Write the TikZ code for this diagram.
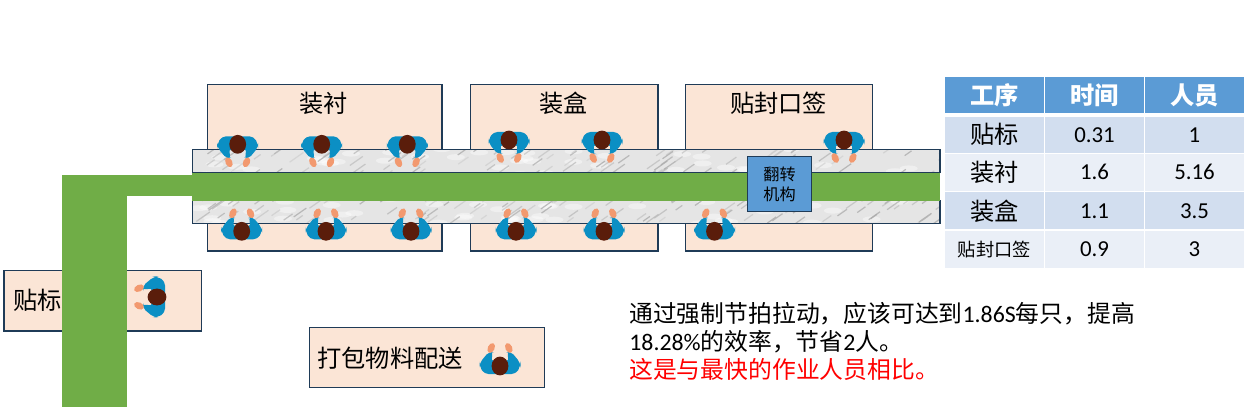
\documentclass[tikz,border=0pt]{standalone}
\usepackage{fontspec}
\setmainfont{Carlito}
\newfontfamily\cjk{Noto Sans CJK SC}
\definecolor{boxfill}{HTML}{FBE5D6}
\definecolor{boxline}{HTML}{1F3B57}
\definecolor{beltgreen}{HTML}{70AD47}
\definecolor{headblue}{HTML}{5B9BD5}
\definecolor{rowdark}{HTML}{D2DEEF}
\definecolor{rowlight}{HTML}{EAEFF7}
\definecolor{shirt}{HTML}{0B8FC4}
\definecolor{hair}{HTML}{5A1D0B}
\definecolor{skin}{HTML}{F2996F}
\tikzset{
  big/.style={font=\cjk\fontsize{13.8pt}{16pt}\selectfont,inner sep=0pt},
  station/.style={draw=boxline,line width=0.75pt,fill=boxfill},
  cell/.style={minimum width=1.98cm,inner sep=0pt,font=\fontsize{13pt}{16pt}\selectfont},
  headcell/.style={cell,fill=headblue,text=white,minimum height=0.72cm,font=\cjk\bfseries\fontsize{13.8pt}{16pt}\selectfont},
  darkcell/.style={cell,fill=rowdark},
  lightcell/.style={cell,fill=rowlight},
  worker/.pic={
    \fill[shirt,rounded corners=2.5] (-20.5,0) -- (-16,-8) -- (16,-8) -- (20.5,0) -- (20.5,3) -- (10.5,15) -- (6,13) -- (10,5) -- (-10,5) -- (-6,13) -- (-10.5,15) -- (-20.5,3) -- cycle;
    \fill[skin,rotate around={25:(-8.8,18)}] (-8.8,18) ellipse (3.4 and 5.2);
    \fill[skin,rotate around={-25:(8.8,18)}] (8.8,18) ellipse (3.4 and 5.2);
    \fill[hair] (0,0) ellipse (8.4 and 9.4);
  },
}
\begin{document}
\begin{tikzpicture}[x=0.02cm,y=-0.02cm]
  \useasboundingbox (0,0) rectangle (1260,418);
  % stations
  \draw[station] (207.3,84.3) rectangle (442,251);
  \draw[station] (470.5,84.3) rectangle (658,251);
  \draw[station] (685.3,84.3) rectangle (872.7,251);
  \draw[station] (4,270.3) rectangle (201.6,331);
  \draw[station] (309.3,327.3) rectangle (544.7,387.3);
  % marble belts
  \fill[gray!20] (192.3,149.3) rectangle (940,172.5);
  \fill[gray!20] (192.3,200.7) rectangle (940,223.3);
  \pgfmathsetseed{41}
  \begin{scope}
    \clip (192.3,149.3) rectangle (940,172.5) (192.3,200.7) rectangle (940,223.3);
    \foreach \i in {1,...,130}{
      \pgfmathsetmacro{\sx}{192+rnd*748}
      \pgfmathsetmacro{\sy}{149+rnd*75}
      \fill[white,opacity=0.4] (\sx,\sy) ellipse (9 and 3);
    }
    \foreach \i in {1,...,300}{
      \pgfmathsetmacro{\sx}{192+rnd*748}
      \pgfmathsetmacro{\sy}{149+rnd*75}
      \pgfmathsetmacro{\sg}{int(35+rnd*35)}
      \pgfmathsetmacro{\sl}{5+rnd*9}
      \draw[gray!\sg,line width=0.7pt,opacity=0.75] (\sx,\sy) -- ++(\sl,-0.7*\sl);
    }
  \end{scope}
  \draw[boxline,line width=0.75pt] (192.3,149.3) rectangle (940,172.5);
  \draw[boxline,line width=0.75pt] (192.3,200.7) rectangle (940,223.3);
  % green line
  \fill[beltgreen] (192.3,172.7) rectangle (940,201);
  \fill[beltgreen] (62,175.5) rectangle (192.3,196);
  \fill[beltgreen] (62,175.5) rectangle (127,406.7);
  % workers
  \pic (up1) at (237.7,144.3) {worker};
  \pic (up2) at (321.7,144.3) {worker};
  \pic (up3) at (407.3,144.3) {worker};
  \pic (up4) at (509,140) {worker};
  \pic (up5) at (602,140) {worker};
  \pic (up6) at (844,140) {worker};
  \pic[rotate=180] (lo1) at (241.7,231.3) {worker};
  \pic[rotate=180] (lo2) at (326,231.3) {worker};
  \pic[rotate=180] (lo3) at (411,231.3) {worker};
  \pic[rotate=180] (lo4) at (516,231.3) {worker};
  \pic[rotate=180] (lo5) at (604,231.3) {worker};
  \pic[rotate=180] (lo6) at (714.5,231.3) {worker};
  \pic[rotate=-90] (side) at (157,297) {worker};
  \pic[rotate=180] (pack) at (500,366) {worker};
  % flip unit
  \draw[boxline,line width=0.75pt,fill=headblue] (747.3,156.3) rectangle (811.7,211.7);
  \node[align=center,inner sep=0pt,font=\cjk\fontsize{9.2pt}{11pt}\selectfont] (flip) at (779.5,184.5) {翻转\\机构};
  % labels
  \node[big] (lining) at (323.5,103) {装衬};
  \node[big] (boxing) at (563.5,103) {装盒};
  \node[big] (sealing) at (778.5,103) {贴封口签};
  \node[big] (labeling) at (37.5,300) {贴标};
  \node[big] (packing) at (390,358) {打包物料配送};
  % table
  \node[headcell] (h1) at (994.5,95.3) {工序};
  \node[headcell] (h2) at (1094.5,95.3) {时间};
  \node[headcell] (h3) at (1194.5,95.3) {人员};
  \node[darkcell,minimum height=0.72cm] (a1) at (994.5,134.7) {\cjk\fontsize{13.8pt}{16pt}\selectfont 贴标};
  \node[darkcell,minimum height=0.72cm] (a2) at (1094.5,134.7) {0.31};
  \node[darkcell,minimum height=0.72cm] (a3) at (1194.5,134.7) {1};
  \node[lightcell,minimum height=0.745cm] (b1) at (994.5,172.3) {\cjk\fontsize{13.8pt}{16pt}\selectfont 装衬};
  \node[lightcell,minimum height=0.745cm] (b2) at (1094.5,172.3) {1.6};
  \node[lightcell,minimum height=0.745cm] (b3) at (1194.5,172.3) {5.16};
  \node[darkcell,minimum height=0.74cm] (c1) at (994.5,210.8) {\cjk\fontsize{13.8pt}{16pt}\selectfont 装盒};
  \node[darkcell,minimum height=0.74cm] (c2) at (1094.5,210.8) {1.1};
  \node[darkcell,minimum height=0.74cm] (c3) at (1194.5,210.8) {3.5};
  \node[lightcell,minimum height=0.74cm] (d1) at (994.5,249.2) {\cjk\fontsize{10.4pt}{12pt}\selectfont 贴封口签};
  \node[lightcell,minimum height=0.74cm] (d2) at (1094.5,249.2) {0.9};
  \node[lightcell,minimum height=0.74cm] (d3) at (1194.5,249.2) {3};
  % note
  \node[anchor=north west,align=left,inner sep=0pt,font=\fontsize{13.55pt}{15.8pt}\selectfont] (note) at (629,302) {{\cjk 通过强制节拍拉动，应该可达到}1.86S{\cjk 每只，提高}\\18.28\%{\cjk 的效率，节省}2{\cjk 人。}\\\textcolor{red}{\cjk 这是与最快的作业人员相比。}};
\end{tikzpicture}
\end{document}
